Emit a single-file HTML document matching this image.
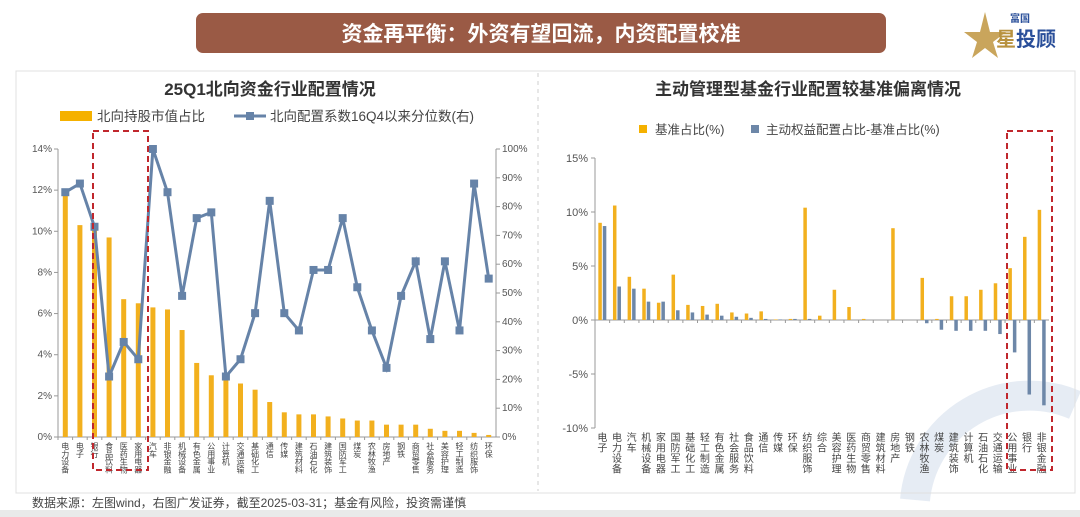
<!DOCTYPE html>
<html><head><meta charset="utf-8">
<style>
body{margin:0;background:#fff;overflow:hidden;}
#root{position:relative;width:1080px;height:517px;overflow:hidden;background:#fff;font-family:"Liberation Sans","Noto Sans CJK SC",sans-serif;}
svg{display:block;}
svg text{font-family:"Liberation Sans","Noto Sans CJK SC",sans-serif;}
</style></head>
<body>
<div id="root">
<svg id="svg" width="1080" height="517" viewBox="0 0 1080 517" xmlns="http://www.w3.org/2000/svg">
  <path d="M 915 500 A 115 115 0 0 1 1075 405" opacity="0.12" fill="none" stroke="#2f5fa8" stroke-width="30"/>
  <rect x="0" y="510" width="1080" height="7" fill="#e9eaea"/>
  <rect x="196" y="13" width="690" height="40" rx="7" fill="#9a5a45"/>
  <text x="541" y="41" text-anchor="middle" font-size="21" font-weight="bold" fill="#fff">资金再平衡：外资有望回流，内资配置校准</text>
  <g>
    <polygon points="985,12 990,32 1006,32 993,42 998,58 985,48 972,58 977,42 964,32 980,32" fill="#c9a55c"/>
    <text x="1010" y="22" font-size="10" font-weight="bold" fill="#2a4f9a">富国</text>
    <text x="996" y="46" font-size="20" font-weight="bold" fill="#b8923f">星</text>
    <text x="1016" y="46" font-size="20" font-weight="bold" fill="#2a4f9a">投顾</text>
  </g>
  <rect x="16" y="71" width="1059" height="422" fill="none" stroke="#e0e0e0"/>
  <line x1="538" y1="73" x2="538" y2="491" stroke="#cfcfcf" stroke-dasharray="4,4"/>
  <text x="270" y="95" text-anchor="middle" font-size="17" font-weight="bold" fill="#333">25Q1北向资金行业配置情况</text>
  <text x="808" y="95" text-anchor="middle" font-size="17" font-weight="bold" fill="#333">主动管理型基金行业配置较基准偏离情况</text>
  <g>
    <rect x="60" y="111" width="32" height="10" fill="#f5b100"/>
    <text x="97" y="121" font-size="13.5" fill="#444">北向持股市值占比</text>
    <line x1="234" y1="116" x2="266" y2="116" stroke="#6683a8" stroke-width="3"/>
    <rect x="246" y="112" width="8" height="8" fill="#6683a8"/>
    <text x="270" y="121" font-size="13.5" fill="#444">北向配置系数16Q4以来分位数(右)</text>
  </g>
  <g>
    <rect x="639" y="125" width="8" height="8" fill="#f5b100"/>
    <text x="655" y="134" font-size="12.5" fill="#444">基准占比(%)</text>
    <rect x="751" y="125" width="8" height="8" fill="#6d87a8"/>
    <text x="766" y="134" font-size="12.5" fill="#444">主动权益配置占比-基准占比(%)</text>
  </g>
  <g id="left"></g>
  <g id="right"></g>
  <rect x="93" y="131" width="55" height="339" fill="none" stroke="#c0272d" stroke-width="2" stroke-dasharray="6,4"/>
  <rect x="1007" y="131" width="45" height="339" fill="none" stroke="#c0272d" stroke-width="2" stroke-dasharray="6,4"/>
  <text x="32" y="507" font-size="12" fill="#444">数据来源：左图wind，右图广发证券，截至2025-03-31；基金有风险，投资需谨慎</text>
</svg>
</div>
<script>
const leftCats=["电力设备","电子","银行","食品饮料","医药生物","家用电器","汽车","非银金融","机械设备","有色金属","公用事业","计算机","交通运输","基础化工","通信","传媒","建筑材料","石油石化","建筑装饰","国防军工","煤炭","农林牧渔","房地产","钢铁","商贸零售","社会服务","美容护理","轻工制造","纺织服饰","环保"];
const leftBars=[12.0,10.3,10.2,9.7,6.7,6.5,6.3,6.2,5.2,3.6,3.0,2.9,2.6,2.3,1.7,1.2,1.1,1.1,1.0,0.9,0.8,0.8,0.6,0.6,0.6,0.4,0.3,0.3,0.2,0.1];
const leftLine=[85,88,73,21,33,27,100,85,49,76,78,21,27,43,82,43,37,58,58,76,52,37,24,49,61,34,61,37,88,55];
const leftTicks=["0%","2%","4%","6%","8%","10%","12%","14%"];
const leftRTicks=["0%","10%","20%","30%","40%","50%","60%","70%","80%","90%","100%"];
const rightCats=["电子","电力设备","汽车","机械设备","家用电器","国防军工","基础化工","轻工制造","有色金属","社会服务","食品饮料","通信","传媒","环保","纺织服饰","综合","美容护理","医药生物","商贸零售","建筑材料","房地产","钢铁","农林牧渔","煤炭","建筑装饰","计算机","石油石化","交通运输","公用事业","银行","非银金融"];
const rightBench=[9.0,10.6,4.0,2.9,1.6,4.2,1.4,1.3,1.5,0.7,0.6,0.8,0.05,0.1,10.4,0.4,2.8,1.2,0.1,0,8.5,0,3.9,0.1,2.2,2.2,2.8,3.4,4.8,7.7,10.2];
const rightDev=[8.7,3.1,2.9,1.7,1.7,0.9,0.7,0.5,0.4,0.3,0.2,0.1,0.05,0.1,0.1,0,0,0,0,0,0,0,-0.3,-0.9,-1.0,-1.0,-1.0,-1.3,-3.0,-6.9,-7.9];
const rightTicks=["-10%","-5%","0%","5%","10%","15%"];
const rightTickVals=[-10,-5,0,5,10,15];

const NS="http://www.w3.org/2000/svg";
function mk(parent,tag,attrs){const e=document.createElementNS(NS,tag);for(const k in attrs)e.setAttribute(k,attrs[k]);parent.appendChild(e);return e;}
function vlabel(g,x,y,str,size,step){const t=mk(g,'text',{x:x,y:y,'font-size':size,fill:'#444','text-anchor':'middle'});
  for(let i=0;i<str.length;i++){const s=mk(t,'tspan',{x:x,dy:(i===0?size:step)});s.textContent=str[i];}return t;}

// Left chart
const L=document.getElementById('left');
const lx0=58,lx1=496,ly0=437,ly1=149;
const lStep=(lx1-lx0)/leftCats.length;
const lx=i=>lx0+lStep*(i+0.5);
const lyL=v=>ly0-(v/14)*(ly0-ly1);
const lyR=v=>ly0-(v/100)*(ly0-ly1);
let a=mk(L,'line',{x1:lx0,y1:ly1,x2:lx0,y2:ly0,stroke:'#999'});

a=mk(L,'line',{x1:lx1,y1:ly1,x2:lx1,y2:ly0,stroke:'#999'});

a=mk(L,'line',{x1:lx0,y1:ly0,x2:lx1,y2:ly0,stroke:'#999'});

leftTicks.forEach((t,i)=>{const y=lyL(i*2);mk(L,'line',{x1:lx0-4,y1:y,x2:lx0,y2:y,stroke:'#999'});
  const e=mk(L,'text',{x:lx0-6,y:y+3,'font-size':10,fill:'#555','text-anchor':'end'});e.textContent=t;
  });
leftRTicks.forEach((t,i)=>{const y=lyR(i*10);mk(L,'line',{x1:lx1,y1:y,x2:lx1+4,y2:y,stroke:'#999'});
  const e=mk(L,'text',{x:lx1+6,y:y+3,'font-size':10,fill:'#555'});e.textContent=t;
  });
leftBars.forEach((v,i)=>{const y=lyL(v);const r=mk(L,'rect',{x:lx(i)-2.5,y:y,width:5,height:ly0-y,fill:'#f2b01e'});
  
  mk(L,'line',{x1:lx0+lStep*i,y1:ly0,x2:lx0+lStep*i,y2:ly0+3,stroke:'#999'});});
const pts=leftLine.map((v,i)=>lx(i)+','+lyR(v)).join(' ');
const pl=mk(L,'polyline',{points:pts,fill:'none',stroke:'#6683a8','stroke-width':3});

leftLine.forEach((v,i)=>{const m=mk(L,'rect',{x:lx(i)-4,y:lyR(v)-4,width:8,height:8,fill:'#6683a8'});
  });
leftCats.forEach((c,i)=>{const t=vlabel(L,lx(i),441,c,8,7.8);
  });

// Right chart
const R=document.getElementById('right');
const rx0=595,rx1=1049,ry15=158,ry_10=428;
const rStep=(rx1-rx0)/rightCats.length;
const rx=i=>rx0+rStep*(i+0.5);
const ry=v=>ry15+(15-v)/25*(ry_10-ry15);
a=mk(R,'line',{x1:rx0,y1:ry15,x2:rx0,y2:ry_10,stroke:'#999'});

a=mk(R,'line',{x1:rx0,y1:ry(0),x2:rx1,y2:ry(0),stroke:'#999'});

rightTicks.forEach((t,i)=>{const y=ry(rightTickVals[i]);mk(R,'line',{x1:rx0-4,y1:y,x2:rx0,y2:y,stroke:'#999'});
  const e=mk(R,'text',{x:rx0-7,y:y+4,'font-size':11,fill:'#555','text-anchor':'end'});e.textContent=t;
  });
rightCats.forEach((c,i)=>{mk(R,'line',{x1:rx0+rStep*i,y1:ry(0),x2:rx0+rStep*i,y2:ry(0)+3,stroke:'#999'});
  const vb=rightBench[i],yb=ry(vb);
  const b=mk(R,'rect',{x:rx(i)-4,y:Math.min(yb,ry(0)),width:3.5,height:Math.abs(ry(0)-yb),fill:'#f2b01e'});
  
  const vd=rightDev[i],yd=ry(vd);
  const d=mk(R,'rect',{x:rx(i)+0.5,y:Math.min(yd,ry(0)),width:3.5,height:Math.abs(ry(0)-yd),fill:'#6d87a8'});
  
  const t=vlabel(R,rx(i),431,c,10,10.5);
  });
</script>
</body></html>
